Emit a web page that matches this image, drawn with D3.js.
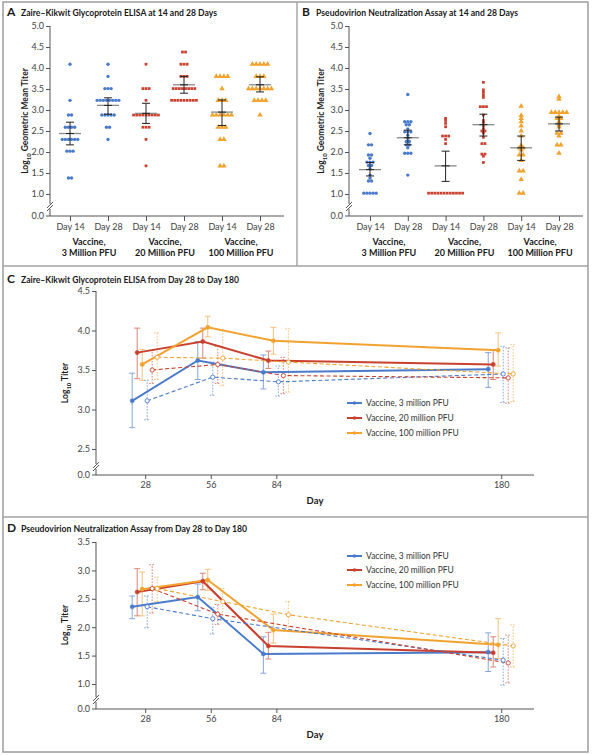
<!DOCTYPE html>
<html><head><meta charset="utf-8">
<script src="https://cdn.jsdelivr.net/npm/d3@7"></script>
<style>
body{margin:0;background:#fff}
text{font-family:Lato,"Open Sans","Noto Sans",sans-serif}
</style>
</head><body>
<svg id="chart" width="593" height="755"></svg>
<script>
// ---------------- DATA ----------------
const abDayLabels = ["Day 14","Day 28","Day 14","Day 28","Day 14","Day 28"];
const abDoseLine1 = ["Vaccine,","Vaccine,","Vaccine,"];
const abDoseLine2 = ["3 Million PFU","20 Million PFU","100 Million PFU"];
const abYTicks = [1.0,1.5,2.0,2.5,3.0,3.5,4.0,4.5,5.0];

// Panel A: ELISA individual log10 titers
const elisa3M14 = [4.09,3.23,2.88,2.88,2.59,2.59,2.59,2.59,2.30,2.30,2.30,2.30,2.30,2.30,2.02,2.02,2.02,1.38,1.38];
const elisa3M28 = [4.09,3.80,3.51,3.51,3.51,3.23,3.23,3.23,3.23,3.23,3.23,3.23,3.23,2.88,2.88,2.88,2.88,2.88,2.59,2.59,2.30];
const elisa20M14 = [4.09,3.51,3.51,3.51,3.23,2.88,2.88,2.88,2.88,2.88,2.88,2.88,2.88,2.88,2.59,2.59,2.59,2.30,1.67];
const elisa20M28 = [4.38,4.38,4.09,4.09,4.09,3.80,3.80,3.80,3.51,3.51,3.51,3.51,3.51,3.51,3.51,3.51,3.23,3.23,3.23,3.23,3.23,3.23,3.23,3.23,3.23];
const elisa100M14 = [3.80,3.80,3.80,3.80,3.51,3.23,3.23,3.23,2.88,2.88,2.88,2.88,2.88,2.88,2.59,2.59,2.59,2.30,2.30,1.67,1.67];
const elisa100M28 = [4.09,4.09,4.09,4.09,4.09,3.80,3.80,3.80,3.51,3.51,3.51,3.51,3.51,3.51,3.51,3.23,3.23,3.23,3.23,2.88];
const elisaMean = [2.44,3.11,2.92,3.60,2.95,3.60];
const elisaLow  = [2.17,2.90,2.68,3.40,2.63,3.43];
const elisaHigh = [2.71,3.29,3.16,3.80,3.24,3.79];

// Panel B: pseudovirion neutralization individual log10 titers
const pna3M14 = [2.44,2.17,2.17,1.93,1.93,1.85,1.76,1.76,1.76,1.68,1.68,1.60,1.45,1.38,1.31,1.31,1.02,1.02,1.02,1.02,1.02];
const pna3M28 = [3.37,2.72,2.72,2.72,2.65,2.65,2.55,2.48,2.48,2.48,2.40,2.33,2.25,2.25,2.17,2.17,2.10,1.97,1.97,1.97,1.45];
const pna20M14 = [2.80,2.75,2.68,2.60,2.38,2.38,2.38,2.30,2.20,1.02,1.02,1.02,1.02,1.02,1.02,1.02,1.02,1.02,1.02,1.02,1.02];
const pna20M28 = [3.66,3.48,3.42,3.36,3.30,3.08,3.08,3.08,2.88,2.75,2.70,2.62,2.55,2.50,2.50,2.45,2.35,2.20,2.20,1.95,1.95,1.90,1.75];
const pna100M14 = [3.09,2.87,2.80,2.72,2.62,2.50,2.38,2.15,2.10,2.10,2.05,1.93,1.93,1.80,1.55,1.55,1.35,1.02,1.02];
const pna100M28 = [3.32,3.26,2.94,2.94,2.94,2.94,2.94,2.85,2.80,2.80,2.72,2.65,2.60,2.45,2.45,2.38,2.17,2.17,1.97];
const pnaMean = [1.58,2.34,1.67,2.65,2.10,2.67];
const pnaLow  = [1.43,2.17,1.30,2.38,1.80,2.50];
const pnaHigh = [1.75,2.52,2.02,2.90,2.38,2.83];

// Panels C and D
const timeDays = [28,56,84,180];
const legendNames = ["Vaccine, 3 million PFU","Vaccine, 20 million PFU","Vaccine, 100 million PFU"];
const cYTicks = [2.5,3.0,3.5,4.0,4.5];
const dYTicks = [1.0,1.5,2.0,2.5,3.0,3.5];

// C: ELISA over time (solid = filled markers, dashed = open markers)
const elisaT3M      = [3.11,3.62,3.47,3.51];
const elisaT3MLow   = [2.77,3.38,3.26,3.28];
const elisaT3MHigh  = [3.46,3.86,3.69,3.72];
const elisaT20M     = [3.72,3.86,3.62,3.57];
const elisaT20MLow  = [3.39,3.65,3.52,3.38];
const elisaT20MHigh = [4.03,4.03,3.74,3.76];
const elisaT100M     = [3.57,4.04,3.87,3.75];
const elisaT100MLow  = [3.37,3.92,3.70,3.55];
const elisaT100MHigh = [3.76,4.18,4.04,3.97];
const elisaT3Mb      = [3.11,3.41,3.35,3.45];
const elisaT3MbLow   = [2.87,3.18,3.17,3.09];
const elisaT3MbHigh  = [3.37,3.60,3.55,3.80];
const elisaT20Mb     = [3.50,3.57,3.43,3.40];
const elisaT20MbLow  = [3.33,3.33,3.20,3.08];
const elisaT20MbHigh = [3.75,3.80,3.66,3.78];
const elisaT100Mb     = [3.66,3.65,3.60,3.45];
const elisaT100MbLow  = [3.38,3.30,3.22,3.10];
const elisaT100MbHigh = [3.97,4.00,4.02,3.82];

// D: neutralization over time
const pnaT3M      = [2.36,2.53,1.53,1.56];
const pnaT3MLow   = [2.15,2.29,1.19,1.22];
const pnaT3MHigh  = [2.55,2.76,1.83,1.90];
const pnaT20M     = [2.62,2.81,1.67,1.55];
const pnaT20MLow  = [2.20,2.66,1.44,1.30];
const pnaT20MHigh = [3.03,2.95,1.91,1.83];
const pnaT100M     = [2.67,2.83,1.95,1.69];
const pnaT100MLow  = [2.20,2.65,1.72,1.45];
const pnaT100MHigh = [2.97,3.02,2.23,2.15];
const pnaT3Mb      = [2.36,2.15,null,1.42];
const pnaT3MbLow   = [1.99,1.88,null,0.98];
const pnaT3MbHigh  = [2.55,2.35,null,1.80];
const pnaT20Mb     = [2.68,2.23,null,1.37];
const pnaT20MbLow  = [2.25,2.05,null,1.02];
const pnaT20MbHigh = [3.10,2.40,null,1.86];
const pnaT100Mb     = [2.68,2.45,2.22,1.67];
const pnaT100MbLow  = [2.45,2.15,2.00,1.30];
const pnaT100MbHigh = [2.88,2.68,2.45,2.04];

// ---------------- STYLE ----------------
const BLUE="#4a7bcb", RED="#c9412e", ORANGE="#f2a22f";
const BLUE_L="#86a6da", RED_L="#dc8579", ORANGE_L="#f5c27a";
const groupColors=[BLUE,BLUE,RED,RED,ORANGE,ORANGE];
const groupShapes=[d3.symbolCircle,d3.symbolCircle,d3.symbolSquare,d3.symbolSquare,d3.symbolTriangle,d3.symbolTriangle];

const svg=d3.select("#chart");

// frame
svg.append("rect").attr("x",3).attr("y",2).attr("width",585).attr("height",750)
  .attr("fill","none").attr("stroke","#a3a3a3").attr("stroke-width",1.6);
svg.append("line").attr("x1",3).attr("x2",588).attr("y1",266).attr("y2",266).attr("stroke","#a3a3a3").attr("stroke-width",1.4);
svg.append("line").attr("x1",3).attr("x2",588).attr("y1",517).attr("y2",517).attr("stroke","#a3a3a3").attr("stroke-width",1.4);
svg.append("line").attr("x1",297).attr("x2",297).attr("y1",2).attr("y2",266).attr("stroke","#a3a3a3").attr("stroke-width",1.4);

function panelTitle(x,y,letter,text,len){
  svg.append("text").attr("x",x).attr("y",y).attr("font-size",12).attr("font-weight","bold").attr("fill","#1a1a1a").text(letter);
  svg.append("text").attr("x",x+14).attr("y",y).attr("font-size",10).attr("font-weight","bold").attr("fill","#1a1a1a")
    .attr("textLength",len).attr("lengthAdjust","spacingAndGlyphs").text(text);
}
panelTitle(7,16,"A","Zaire–Kikwit Glycoprotein ELISA at 14 and 28 Days",196);
panelTitle(302,16,"B","Pseudovirion Neutralization Assay at 14 and 28 Days",202);
panelTitle(7,283,"C","Zaire–Kikwit Glycoprotein ELISA from Day 28 to Day 180",218);
panelTitle(7,532,"D","Pseudovirion Neutralization Assay from Day 28 to Day 180",226);

function yLabel(x,yc,rest,size){
  const t=svg.append("text").attr("transform",`translate(${x},${yc}) rotate(-90)`).attr("text-anchor","middle")
    .attr("font-size",size).attr("font-weight","bold").attr("fill","#1a1a1a");
  t.append("tspan").text("Log");
  t.append("tspan").attr("font-size",size*0.7).attr("dy",2.5).text("10");
  t.append("tspan").attr("dy",-2.5).text(" "+rest);
}

function styleAxis(g){
  g.selectAll("text").attr("font-size",9).attr("fill","#444").attr("font-family",'Lato,"Open Sans",sans-serif');
  g.selectAll("line").attr("stroke","#555");
}

function brokenYAxis(g,axisX,yTop,yZero,yBreak){
  g.append("line").attr("x1",axisX).attr("x2",axisX).attr("y1",yTop).attr("y2",yBreak-3).attr("stroke","#555");
  g.append("line").attr("x1",axisX).attr("x2",axisX).attr("y1",yBreak+2).attr("y2",yZero).attr("stroke","#555");
  g.append("path").attr("d",`M${axisX-3},${yBreak+1}l6,-6M${axisX-3},${yBreak+4}l6,-6`).attr("stroke","#555").attr("fill","none");
  g.append("line").attr("x1",axisX-4).attr("x2",axisX).attr("y1",yZero).attr("y2",yZero).attr("stroke","#555");
  g.append("text").attr("x",axisX-6).attr("y",yZero).attr("dy","0.32em").attr("text-anchor","end")
    .attr("font-size",9).attr("fill","#444").text("0.0");
}

// ---------------- PANELS A & B ----------------
function dotPanel(axisX,xRange,valueSets,means,lows,highs){
  const g=svg.append("g");
  const y=d3.scaleLinear().domain([1,5]).range([194,26]);
  const x=d3.scalePoint().domain(d3.range(6)).range(xRange);
  const yZero=216;
  const ya=g.append("g").attr("transform",`translate(${axisX},0)`)
    .call(d3.axisLeft(y).tickValues(abYTicks).tickFormat(d3.format(".1f")).tickSize(4).tickPadding(2));
  ya.select(".domain").remove(); styleAxis(ya);
  brokenYAxis(g,axisX,y(5),yZero,207);
  const xa=g.append("g").attr("transform",`translate(0,${yZero})`)
    .call(d3.axisBottom(x).tickSize(5).tickPadding(3).tickFormat(i=>abDayLabels[i]));
  xa.select(".domain").remove(); styleAxis(xa);
  g.append("line").attr("x1",axisX).attr("x2",axisX+234).attr("y1",yZero).attr("y2",yZero).attr("stroke","#555");
  abDoseLine2.forEach((t,k)=>{
    const cx=(x(2*k)+x(2*k+1))/2;
    g.append("text").attr("x",cx).attr("y",245).attr("text-anchor","middle").attr("font-size",9).attr("font-weight","bold").attr("fill","#1a1a1a").text(abDoseLine1[k]);
    g.append("text").attr("x",cx).attr("y",256).attr("text-anchor","middle").attr("font-size",9).attr("font-weight","bold").attr("fill","#1a1a1a").text(t);
  });
  valueSets.forEach((arr,i)=>{
    const counts=d3.rollup(arr,v=>v.length,d=>d.toFixed(2));
    const seen=new Map();
    const tri=groupShapes[i]===d3.symbolTriangle;
    const sq=groupShapes[i]===d3.symbolSquare;
    const sp=tri?3.8:3.1;
    const sym=d3.symbol().type(groupShapes[i]).size(tri?13:(sq?7.5:9))();
    arr.forEach(v=>{
      const k=v.toFixed(2), n=counts.get(k), j=seen.get(k)||0; seen.set(k,j+1);
      g.append("path").attr("d",sym).attr("transform",`translate(${x(i)+(j-(n-1)/2)*sp},${y(v)})`).attr("fill",groupColors[i]);
    });
    // mean & CI
    g.append("line").attr("x1",x(i)-11).attr("x2",x(i)+11).attr("y1",y(means[i])).attr("y2",y(means[i])).attr("stroke","#8a8a8a").attr("stroke-width",1.3);
    g.append("line").attr("x1",x(i)).attr("x2",x(i)).attr("y1",y(lows[i])).attr("y2",y(highs[i])).attr("stroke","#222").attr("stroke-width",1);
    [lows[i],highs[i]].forEach(v=>g.append("line").attr("x1",x(i)-4).attr("x2",x(i)+4).attr("y1",y(v)).attr("y2",y(v)).attr("stroke","#222").attr("stroke-width",1));
    g.append("line").attr("x1",x(i)-4).attr("x2",x(i)+4).attr("y1",y(means[i])).attr("y2",y(means[i])).attr("stroke","#222").attr("stroke-width",1);
  });
}
dotPanel(50,[70,260],[elisa3M14,elisa3M28,elisa20M14,elisa20M28,elisa100M14,elisa100M28],elisaMean,elisaLow,elisaHigh);
dotPanel(349,[370,559],[pna3M14,pna3M28,pna20M14,pna20M28,pna100M14,pna100M28],pnaMean,pnaLow,pnaHigh);
yLabel(28,121,"Geometric Mean Titer",8.5);
yLabel(324,121,"Geometric Mean Titer",8.5);

// ---------------- PANELS C & D ----------------
function timePanel(o){
  const g=svg.append("g");
  const axisX=96;
  const x=d3.scaleLinear().domain([7,194]).range([96,534]);
  const y=d3.scaleLinear().domain(o.yDomain).range(o.yRange);
  const dodge=d3.scalePoint().domain(d3.range(6)).range([-13,12]);
  const ya=g.append("g").attr("transform",`translate(${axisX},0)`)
    .call(d3.axisLeft(y).tickValues(o.yTicks).tickFormat(d3.format(".1f")).tickSize(4).tickPadding(2));
  ya.select(".domain").remove(); styleAxis(ya);
  brokenYAxis(g,axisX,y(o.yDomain[1]),o.zeroY,o.breakY);
  const xa=g.append("g").attr("transform",`translate(0,${o.zeroY})`)
    .call(d3.axisBottom(x).tickValues(timeDays).tickSize(4).tickPadding(3).tickFormat(d3.format("d")));
  xa.select(".domain").remove(); styleAxis(xa);
  g.append("line").attr("x1",axisX).attr("x2",534).attr("y1",o.zeroY).attr("y2",o.zeroY).attr("stroke","#555");
  g.append("text").attr("x",315).attr("y",o.dayY).attr("text-anchor","middle").attr("font-size",9.5).attr("font-weight","bold").attr("fill","#1a1a1a").text("Day");

  const ebG=g.append("g"), lnG=g.append("g"), ptG=g.append("g");
  o.series.forEach((s,si)=>{
    const pts=timeDays.map((d,k)=>({d,m:s.mean[k],lo:s.low[k],hi:s.high[k]})).filter(p=>p.m!==null);
    const px=p=>x(p.d)+dodge(si);
    pts.forEach(p=>{
      const xx=px(p);
      const att=sel=>sel.attr("stroke",s.light).attr("stroke-width",1).attr("stroke-dasharray",s.dashed?"1.6,1.4":null);
      att(ebG.append("line").attr("x1",xx).attr("x2",xx).attr("y1",y(p.lo)).attr("y2",y(p.hi)));
      att(ebG.append("line").attr("x1",xx-3).attr("x2",xx+3).attr("y1",y(p.lo)).attr("y2",y(p.lo)));
      att(ebG.append("line").attr("x1",xx-3).attr("x2",xx+3).attr("y1",y(p.hi)).attr("y2",y(p.hi)));
    });
    lnG.append("path").datum(pts).attr("d",d3.line().x(px).y(p=>y(p.m)))
      .attr("fill","none").attr("stroke",s.color).attr("stroke-width",s.dashed?1.1:2)
      .attr("stroke-dasharray",s.dashed?"4,2.5":null);
    pts.forEach(p=>{
      ptG.append("circle").attr("cx",px(p)).attr("cy",y(p.m)).attr("r",2.1)
        .attr("fill",s.dashed?"#fff":s.color).attr("stroke",s.color).attr("stroke-width",s.dashed?0.9:0.5);
    });
  });
  // legend
  legendNames.forEach((name,k)=>{
    const ly=o.legendY[k];
    const col=[BLUE,RED,ORANGE][k];
    g.append("line").attr("x1",347).attr("x2",362).attr("y1",ly).attr("y2",ly).attr("stroke",col).attr("stroke-width",2);
    g.append("circle").attr("cx",354.5).attr("cy",ly).attr("r",1.8).attr("fill",col);
    g.append("text").attr("x",366).attr("y",ly).attr("dy","0.34em").attr("font-size",8.5).attr("fill","#333").text(name);
  });
}

timePanel({
  yDomain:[2.5,4.5], yRange:[449,291], yTicks:cYTicks, zeroY:475, breakY:467, dayY:504,
  legendY:[403,418,433],
  series:[
    {mean:elisaT3M,low:elisaT3MLow,high:elisaT3MHigh,color:BLUE,light:BLUE_L,dashed:false},
    {mean:elisaT20M,low:elisaT20MLow,high:elisaT20MHigh,color:RED,light:RED_L,dashed:false},
    {mean:elisaT100M,low:elisaT100MLow,high:elisaT100MHigh,color:ORANGE,light:ORANGE_L,dashed:false},
    {mean:elisaT3Mb,low:elisaT3MbLow,high:elisaT3MbHigh,color:BLUE,light:BLUE_L,dashed:true},
    {mean:elisaT20Mb,low:elisaT20MbLow,high:elisaT20MbHigh,color:RED,light:RED_L,dashed:true},
    {mean:elisaT100Mb,low:elisaT100MbLow,high:elisaT100MbHigh,color:ORANGE,light:ORANGE_L,dashed:true}
  ]
});
timePanel({
  yDomain:[1.0,3.5], yRange:[684,542], yTicks:dYTicks, zeroY:709, breakY:700, dayY:738,
  legendY:[556,570,585],
  series:[
    {mean:pnaT3M,low:pnaT3MLow,high:pnaT3MHigh,color:BLUE,light:BLUE_L,dashed:false},
    {mean:pnaT20M,low:pnaT20MLow,high:pnaT20MHigh,color:RED,light:RED_L,dashed:false},
    {mean:pnaT100M,low:pnaT100MLow,high:pnaT100MHigh,color:ORANGE,light:ORANGE_L,dashed:false},
    {mean:pnaT3Mb,low:pnaT3MbLow,high:pnaT3MbHigh,color:BLUE,light:BLUE_L,dashed:true},
    {mean:pnaT20Mb,low:pnaT20MbLow,high:pnaT20MbHigh,color:RED,light:RED_L,dashed:true},
    {mean:pnaT100Mb,low:pnaT100MbLow,high:pnaT100MbHigh,color:ORANGE,light:ORANGE_L,dashed:true}
  ]
});
yLabel(68,383,"Titer",8.5);
yLabel(68,625,"Titer",8.5);
</script>
</body></html>
